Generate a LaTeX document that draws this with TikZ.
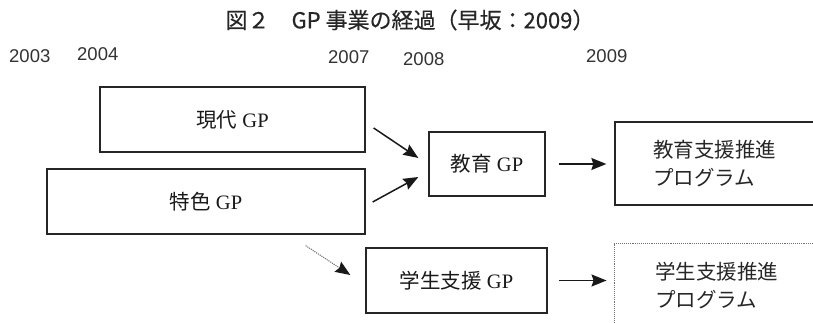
\documentclass[tikz,border=0pt]{standalone}
\usepackage{fontspec}
\setmainfont{Liberation Serif}
\newfontfamily\cjk{Noto Sans CJK JP}
\newfontfamily\cjktitle{Noto Sans CJK JP}[FakeBold=0.4]
\newfontfamily\yearfont{Liberation Sans}
\usetikzlibrary{arrows.meta}
\begin{document}
\begin{tikzpicture}[x=1pt,y=-1pt,
  every node/.style={font=\fontsize{20.5}{28}\selectfont, text=black!90},
  box/.style={draw=black!85, line width=1.3pt, inner sep=0pt},
  dotbox/.style={draw=black!55, densely dotted, line width=0.9pt, inner sep=0pt},
  arr/.style={draw=black!90, line width=1.5pt, -{Stealth[length=15pt,width=12pt,inset=2pt]}},
  dotarr/.style={draw=black!55, densely dotted, line width=1.1pt, -{Stealth[length=15pt,width=12pt,inset=2pt,color=black!90,fill=black!90]}},
  year/.style={anchor=west, inner sep=0pt, font=\yearfont\fontsize{18.5}{18}\selectfont, text=black!80},
  ptext/.style={anchor=west, inner sep=0pt, align=left, font=\cjk\fontsize{20.5}{28}\selectfont, text=black!85}
]
\useasboundingbox (0,0) rectangle (813,323);
\clip (0,0) rectangle (813,323);

% title
\node[font=\cjktitle\fontsize{22}{22}\selectfont, text=black!85] (title) at (410,20) {図２　GP 事業の経過（早坂：2009）};

% years
\node[year] (y2003) at (9,56) {2003};
\node[year] (y2004) at (77,54) {2004};
\node[year] (y2007) at (328,57) {2007};
\node[year] (y2008) at (403,59) {2008};
\node[year] (y2009) at (586,56) {2009};

% boxes
\node[box, minimum width=265, minimum height=65] (gendai) at (232.5,119.5) {{\cjk 現代} GP};
\node[box, minimum width=318, minimum height=65] (tokushoku) at (206,201.5) {{\cjk 特色} GP};
\node[box, minimum width=116, minimum height=64] (kyoiku) at (487,164) {{\cjk 教育} GP};
\node[box, minimum width=181, minimum height=65] (gakusei) at (456.5,280.5) {{\cjk 学生支援} GP};
\node[box, minimum width=220, minimum height=83] (p1) at (725,163.5) {};
\node[dotbox, minimum width=221, minimum height=97] (p2) at (724.5,291.5) {};
\node[ptext] (p1t) at (653,164) {教育支援推進\\プログラム};
\node[ptext] (p2t) at (655,286) {学生支援推進\\プログラム};

% connectors
\draw[arr] ([shift={(8,8.5)}]gendai.east) -- ([shift={(-10,-6)}]kyoiku.west);
\draw[arr] ([shift={(7,0.5)}]tokushoku.east) -- ([shift={(-10,13)}]kyoiku.west);
\draw[arr] ([xshift=13pt]kyoiku.east) -- ([xshift=-8pt]kyoiku.east -| p1.west);
\draw[dotarr] ([shift={(-60,11)}]tokushoku.south east) -- ([shift={(-15,-5.5)}]gakusei.west);
\draw[arr] ([xshift=11pt]gakusei.east) -- ([xshift=-7pt]gakusei.east -| p2.west);
\end{tikzpicture}
\end{document}
